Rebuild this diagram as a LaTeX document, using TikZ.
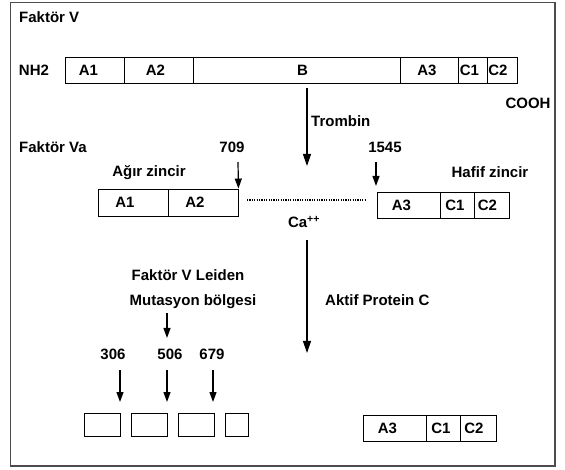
\documentclass[tikz,border=0pt]{standalone}
\usepackage{fontspec}
\setmainfont{Liberation Sans}
\usetikzlibrary{arrows.meta}
\begin{document}
\begin{tikzpicture}[x=1pt,y=-1pt,
  every node/.style={font=\fontsize{15}{17}\selectfont\bfseries, inner sep=0pt},
  seg/.style 2 args={draw, line width=0.9pt, minimum width=#1, minimum height=#2},
  arr/.style={line width=1.2pt, -{Triangle[width=7pt,length=10pt]}},
  bigarr/.style={line width=1.2pt, -{Triangle[width=8pt,length=12pt]}},
  frame/.style={draw=black!70, line width=1.3pt}
]
\useasboundingbox (0,0) rectangle (565,470);
\draw[frame] (10.5,2.5) rectangle (555,466);

% Faktor V
\node[anchor=west] (fv) at (19,17) {Faktör V};
\node (nh2) at (34,70) {NH2};
\node[seg={59}{26}] (tA1) at (94.5,70) {\hspace*{-12pt}A1};
\node[seg={69}{26}] (tA2) at (158.5,70) {\hspace*{-6pt}A2};
\node[seg={207}{26}] (tB) at (296.5,70) {\hspace*{12pt}B};
\node[seg={58}{26}] (tA3) at (429,70) {\hspace*{-4pt}A3};
\node[seg={29}{26}] (tC1) at (472.5,70) {\hspace*{-6pt}C1};
\node[seg={30}{26}] (tC2) at (502,70) {\hspace*{-8pt}C2};
\node (cooh) at (528,103) {COOH};

% Trombin
\coordinate (trS) at (307,88);
\coordinate (trE) at (307,166);
\draw[bigarr] (trS) -- (trE);
\node[anchor=west] (trombin) at (311,121) {Trombin};

% Faktor Va
\node[anchor=west] (fva) at (19,147) {Faktör Va};
\node (n709) at (232,147) {709};
\node (agir) at (149,173) {Ağır zincir};
\node[seg={70}{27}] (hA1) at (133,202.5) {\hspace*{-16pt}A1};
\node[seg={70}{27}] (hA2) at (203,202.5) {\hspace*{-16pt}A2};
\coordinate (s709) at (238,162);
\draw[arr] (s709) -- (hA2.north east);

\node (n1545) at (385,147) {1545};
\node (hafif) at (490,172) {Hafif zincir};
\node[seg={63}{26}] (lA3) at (408.5,205) {\hspace*{-14pt}A3};
\node[seg={34}{26}] (lC1) at (457,205) {\hspace*{-4pt}C1};
\node[seg={35}{26}] (lC2) at (491.5,205) {\hspace*{-8pt}C2};
\coordinate (s1545) at (376,162);
\coordinate (e1545) at (376,186);
\draw[arr] (s1545) -- (e1545);

\coordinate (dotS) at (247,200);
\coordinate (dotE) at (365,200);
\draw[line width=1.8pt, dash pattern=on 1.2pt off 1.2pt] (dotS) -- (dotE);
\node (ca) at (304,222) {Ca\textsuperscript{++}};

% Aktif Protein C
\coordinate (apcS) at (307,240);
\coordinate (apcE) at (307,353);
\draw[bigarr] (apcS) -- (apcE);
\node[anchor=west] (apc) at (325,300) {Aktif Protein C};

% Leiden
\node (leiden) at (188,275) {Faktör V Leiden};
\node (mut) at (193,302) {Mutasyon bölgesi};
\coordinate (mutS) at (167,313);
\coordinate (mutE) at (167,338);
\draw[arr] (mutS) -- (mutE);

\node (n306) at (113,354) {306};
\node (n506) at (170,354) {506};
\node (n679) at (212,354) {679};

\node[seg={36}{23}] (b1) at (102,424.5) {};
\node[seg={36}{23}] (b2) at (149,424.5) {};
\node[seg={36}{23}] (b3) at (196,424.5) {};
\node[seg={23}{23}] (b4) at (236.5,424.5) {};

\coordinate (a1s) at (120,370); \coordinate (a1e) at (120,402);
\coordinate (a2s) at (167,370); \coordinate (a2e) at (167,402);
\coordinate (a3s) at (213,370); \coordinate (a3e) at (213,402);
\draw[arr] (a1s) -- (a1e);
\draw[arr] (a2s) -- (a2e);
\draw[arr] (a3s) -- (a3e);

\node[seg={63}{26}] (rA3) at (394.5,428) {\hspace*{-14pt}A3};
\node[seg={34}{26}] (rC1) at (443,428) {\hspace*{-4pt}C1};
\node[seg={36}{26}] (rC2) at (478,428) {\hspace*{-8pt}C2};
\end{tikzpicture}
\end{document}
